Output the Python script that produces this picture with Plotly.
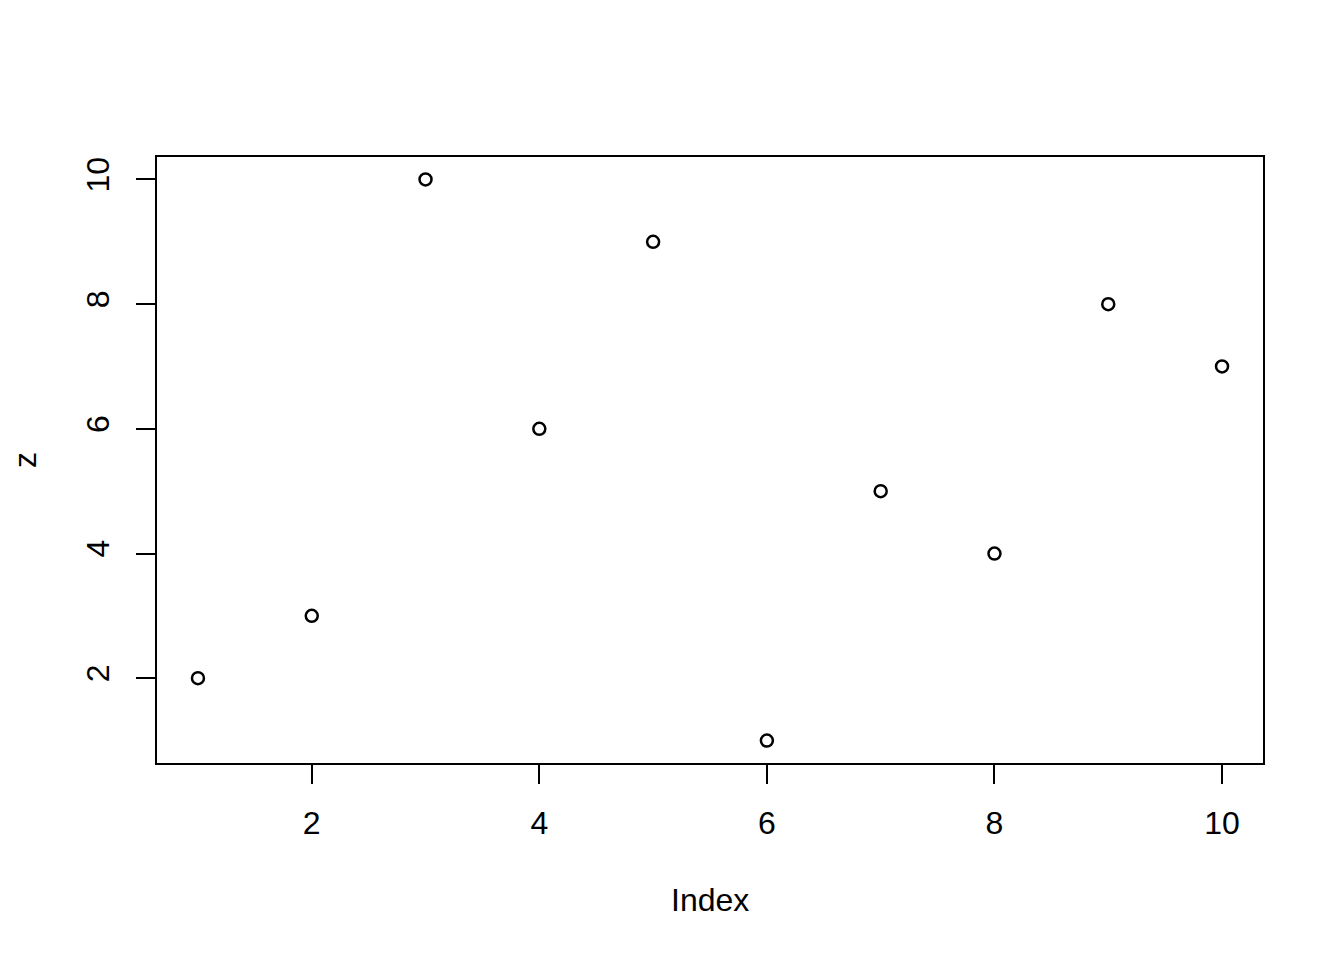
import plotly.graph_objects as go

index = [1, 2, 3, 4, 5, 6, 7, 8, 9, 10]
z = [2, 3, 10, 6, 9, 1, 5, 4, 8, 7]
x_ticks = [2, 4, 6, 8, 10]
y_ticks = [2, 4, 6, 8, 10]

FONT = "Liberation Sans, Arial, sans-serif"

fig = go.Figure()
fig.add_trace(go.Scatter(
    x=index, y=z, mode="markers",
    marker=dict(symbol="circle-open", size=12, color="black", line=dict(width=2.5, color="black")),
    showlegend=False,
))

axis_common = dict(
    showline=True, linecolor="black", linewidth=2, mirror=True,
    ticks="outside", ticklen=19, tickwidth=2, tickcolor="black",
    showgrid=False, zeroline=False,
    tickfont=dict(family=FONT, size=32, color="black"),
)

# page has an 8px body offset; plot area on page: x 157..1263, y 157..763
L, R, T, B = 149, 89, 149, 205
fig.update_layout(
    width=1344, height=960,
    margin=dict(l=L, r=R, t=T, b=B),
    paper_bgcolor="white", plot_bgcolor="white",
    xaxis=dict(range=[0.64, 10.36], tickvals=x_ticks, ticktext=[str(v) for v in x_ticks],
               ticklabelstandoff=12, **axis_common),
    yaxis=dict(range=[0.64, 10.36], tickvals=y_ticks, ticktext=[str(v) for v in y_ticks],
               tickangle=-90, ticklabelstandoff=14, **axis_common),
)

plot_w = 1263 - 157
plot_h = 763 - 157
fig.add_annotation(text="Index", x=(710 - 157) / plot_w, xref="paper",
                   y=(763 - 900) / plot_h, yref="paper", showarrow=False,
                   font=dict(family=FONT, size=32, color="black"),
                   xanchor="center", yanchor="middle")
fig.add_annotation(text="z", x=(25 - 157) / plot_w, xref="paper",
                   y=(763 - 460) / plot_h, yref="paper", showarrow=False, textangle=-90,
                   font=dict(family=FONT, size=32, color="black"),
                   xanchor="center", yanchor="middle")

fig.write_html("out.html")
